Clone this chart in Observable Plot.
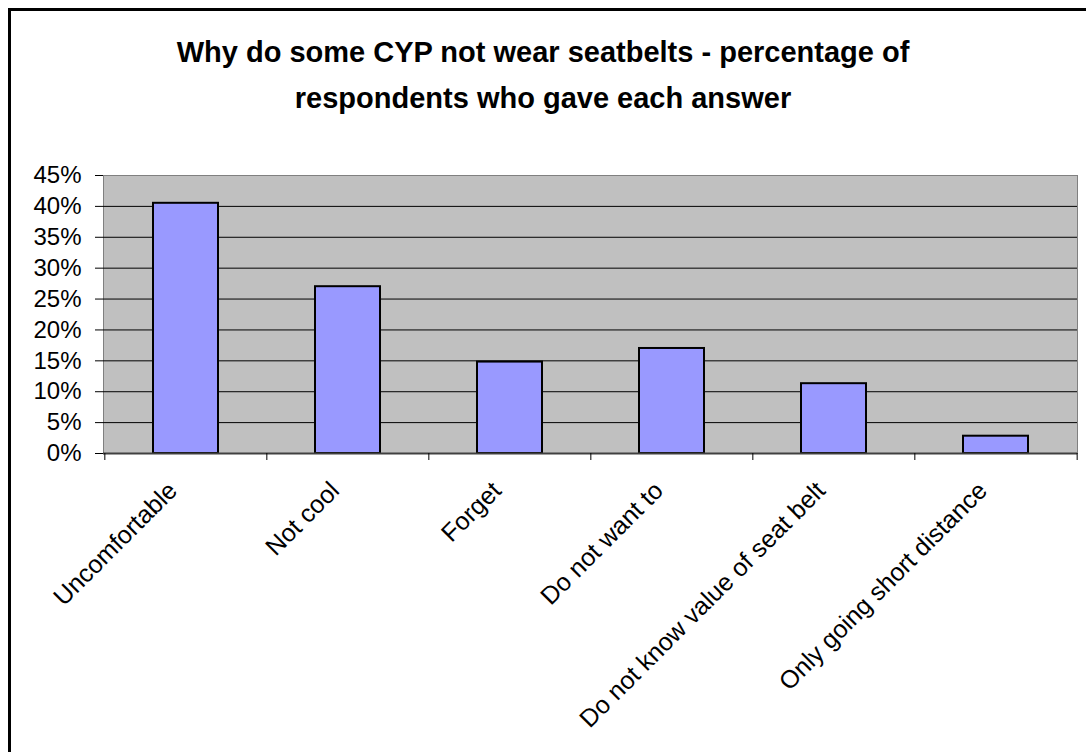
<!DOCTYPE html>
<html>
<head>
<meta charset="utf-8">
<script src="https://cdn.jsdelivr.net/npm/d3@7"></script>
<script src="https://cdn.jsdelivr.net/npm/@observablehq/plot@0.6"></script>
<style>
  html, body { margin: 0; padding: 0; background: #fff; overflow: hidden; }
  #wrap { position: relative; width: 1086px; height: 752px; font-family: "Liberation Sans", Arial, sans-serif; }
  #frame { position: absolute; left: 8px; top: 8px; width: 1200px; height: 900px; border-left: 3px solid #000; border-top: 3px solid #000; box-sizing: border-box; }
  #title { position: absolute; left: 0; top: 29px; width: 1086px; text-align: center; font-weight: bold; font-size: 29px; line-height: 46px; color: #000; }
  #chart { position: absolute; left: 0; top: 0; }
</style>
</head>
<body>
<div id="wrap">
  <div id="frame"></div>
  <div id="chart"></div>
  <div id="title">Why do some CYP not wear seatbelts - percentage of<br>respondents who gave each answer</div>
</div>
<script>
const categories = ["Uncomfortable", "Not cool", "Forget", "Do not want to", "Do not know value of seat belt", "Only going short distance"];
const values = [0.405, 0.27, 0.148, 0.17, 0.113, 0.028];
const yTicks = [0, 0.05, 0.10, 0.15, 0.20, 0.25, 0.30, 0.35, 0.40, 0.45];

const data = categories.map((c, i) => ({category: c, value: values[i]}));

const W = 1086, H = 752;
const mLeft = 103, mRight = W - 1077, mTop = 175, mBottom = H - 453;
const step = (W - mLeft - mRight) / categories.length;

const chart = Plot.plot({
  width: W,
  height: H,
  marginLeft: mLeft,
  marginRight: mRight,
  marginTop: mTop,
  marginBottom: mBottom,
  style: {fontFamily: "'Liberation Sans', Arial, sans-serif", fontSize: "24px", color: "#000", background: "transparent"},
  x: {domain: categories, paddingInner: 0.6, paddingOuter: 0.3},
  y: {domain: [0, 0.45]},
  marks: [
    Plot.frame({fill: "#C0C0C0", stroke: "#808080"}),
    Plot.ruleY(yTicks.slice(1, -1), {stroke: "#000", strokeWidth: 1}),
    Plot.barY(data, {x: "category", y: "value", fill: "#9999FF", stroke: "#000", strokeWidth: 2}),
    Plot.ruleY([0], {stroke: "#404040", strokeWidth: 2}),
    Plot.ruleX(categories, {x: d => d, y1: 0, y2: 0, insetBottom: -7, dx: -step / 2, stroke: "#000"}),
    Plot.ruleX(categories.slice(-1), {x: d => d, y1: 0, y2: 0, insetBottom: -7, dx: step / 2, stroke: "#000"}),
    Plot.axisY({ticks: yTicks, tickFormat: d3.format(".0%"), tickSize: 8, tickPadding: 14, fontSize: 24, stroke: "#000", label: null}),
    Plot.axisX({tickRotate: -45, tickSize: 0, tickPadding: 33, dx: -13, fontSize: 25, label: null})
  ]
});
document.getElementById("chart").appendChild(chart);
</script>
</body>
</html>
